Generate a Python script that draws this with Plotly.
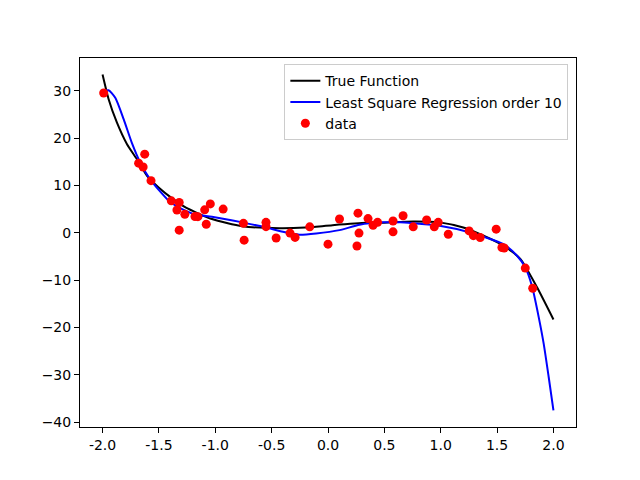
import plotly.graph_objects as go

# true function
true_x = [-2.0, -1.946, -1.873, -1.783, -1.694, -1.605, -1.5, -1.38, -1.26, -1.03, -0.76, -0.43, -0.2, 0.04, 0.34, 0.46, 0.756, 0.99, 1.2, 1.35, 1.557, 1.706, 1.854, 2.0]
true_y = [33.4, 28.2, 23.3, 18.7, 15.5, 12.0, 9.5, 7.2, 5.3, 2.9, 1.4, 0.95, 1.1, 1.6, 2.1, 2.1, 2.4, 2.2, 1.1, -0.3, -2.7, -5.5, -11.5, -18.3]

# order 10 least square fit
fit_x = [-1.99, -1.947, -1.887, -1.813, -1.74, -1.665, -1.59, -1.47, -1.41, -1.32, -1.17, -1.03, -0.76, -0.55, -0.40, -0.254, -0.105, 0.102, 0.28, 0.49, 0.637, 0.756, 0.99, 1.26, 1.557, 1.677, 1.75, 1.81, 1.87, 1.914, 1.958, 2.0]
fit_y = [29.9, 30.1, 28.5, 24.0, 19.0, 14.8, 11.7, 8.2, 6.7, 5.3, 3.8, 3.4, 2.2, 1.1, 0.2, -0.4, -0.14, 0.56, 1.7, 2.2, 2.2, 2.0, 1.5, 0.07, -2.4, -4.85, -7.3, -11.3, -17.9, -23.5, -30.5, -37.5]

# noisy samples
data_x = [-1.99, -1.626, -1.68, -1.64, -1.57, -1.39, -1.32, -1.34, -1.27, -1.32, -1.18, -1.154,
          -1.094, -1.044, -1.08, -0.93, -0.75, -0.744, -0.55, -0.55, -0.46,
          -0.337, -0.292, -0.162, 0.0, 0.102, 0.266, 0.275, 0.257, 0.355, 0.40, 0.44, 0.577, 0.577,
          0.666, 0.756, 0.875, 0.978, 0.943, 1.067, 1.252, 1.29, 1.35, 1.492, 1.543, 1.563, 1.75, 1.816]
data_y = [29.5, 16.6, 14.7, 13.9, 11.0, 6.75, 6.4, 4.8, 3.9, 0.55, 3.45, 3.4,
          4.85, 6.1, 1.8, 5.0, 2.0, -1.55, 2.2, 1.3, -1.1,
          -0.07, -0.98, 1.26, -2.4, 2.9, 4.15, -0.07, -2.8, 3.0, 1.6, 2.2, 2.5, 0.2,
          3.6, 1.26, 2.7, 2.2, 1.26, -0.3, 0.4, -0.6, -1.0, 0.77, -3.1, -3.2, -7.45, -11.7]

fig = go.Figure()

#Curves
fig.add_trace(go.Scatter(x=true_x, y=true_y, mode='lines', name='True Function',
                         line=dict(color='black', width=2, shape='spline', smoothing=0.6)))
fig.add_trace(go.Scatter(x=fit_x, y=fit_y, mode='lines', name='Least Square Regression order 10',
                         line=dict(color='blue', width=2, shape='spline', smoothing=0.6)))

#Data points
fig.add_trace(go.Scatter(x=data_x, y=data_y, mode='markers', name='data',
                         marker=dict(color='red', size=9)))

#Layout
fig.update_layout(
    width=640, height=480,
    margin=dict(l=72, r=72, t=50, b=61),
    paper_bgcolor='white', plot_bgcolor='white',
    font=dict(family='DejaVu Sans', size=14, color='black'),
    legend=dict(x=0.412, y=0.983, xanchor='left', yanchor='top',
                bordercolor='#cccccc', borderwidth=1, bgcolor='rgba(255,255,255,0.8)',
                itemwidth=30, font=dict(size=14)),
)
fig.update_xaxes(range=[-2.2, 2.2], tickvals=[-2.0, -1.5, -1.0, -0.5, 0.0, 0.5, 1.0, 1.5, 2.0],
                 ticktext=['-2.0', '-1.5', '-1.0', '-0.5', '0.0', '0.5', '1.0', '1.5', '2.0'],
                 showgrid=False, zeroline=False, showline=True, linecolor='black', mirror=True,
                 ticks='outside', ticklen=5, tickcolor='black')
fig.update_yaxes(range=[-41.0, 36.9], tickvals=[-40, -30, -20, -10, 0, 10, 20, 30],
                 showgrid=False, zeroline=False, showline=True, linecolor='black', mirror=True,
                 ticks='outside', ticklen=5, tickcolor='black')

fig.write_html("out.html")
